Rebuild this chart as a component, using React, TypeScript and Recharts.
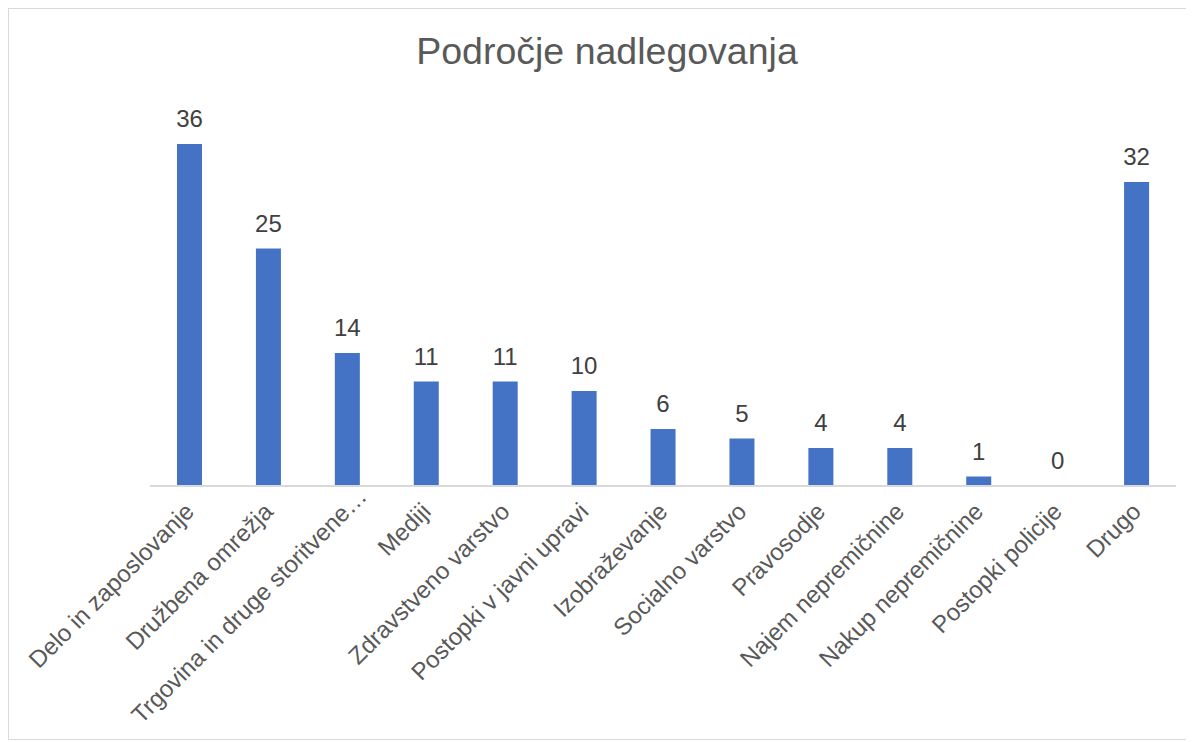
import React from 'react';
import { BarChart, Bar, XAxis, YAxis } from 'recharts';

const categories = [
  'Delo in zaposlovanje',
  'Družbena omrežja',
  'Trgovina in druge storitvene…',
  'Mediji',
  'Zdravstveno varstvo',
  'Postopki v javni upravi',
  'Izobraževanje',
  'Socialno varstvo',
  'Pravosodje',
  'Najem nepremičnine',
  'Nakup nepremičnine',
  'Postopki policije',
  'Drugo',
];
const counts = [36, 25, 14, 11, 11, 10, 6, 5, 4, 4, 1, 0, 32];

const data = categories.map((name, i) => ({ name, value: counts[i] }));

const font = "'Liberation Sans', Arial, sans-serif";
const textColor = '#595959';
const barColor = '#4472C4';

const AngledTick = (props: any) => {
  const { x, y, payload } = props;
  // the clipped label sits a bit further up-right, like in Excel
  const shift = String(payload.value).endsWith('…') ? 15 : 0;
  return (
    <g transform={`translate(${x + shift},${y + 13 - shift})`}>
      <text
        transform="rotate(-45)"
        textAnchor="end"
        dy="0.35em"
        fill={textColor}
        fontSize={24}
        fontFamily={font}
      >
        {payload.value}
      </text>
    </g>
  );
};

// bar + value label; drawn even when the value is 0
const BarWithLabel = (props: any) => {
  const { x, y, width, height, value } = props;
  const v = Array.isArray(value) ? value[1] - value[0] : value;
  return (
    <g>
      {height > 0 && <rect x={x} y={y} width={width} height={height} fill={barColor} />}
      <text
        x={x + width / 2}
        y={y - 17}
        textAnchor="middle"
        fill="#404040"
        fontSize={24}
        fontFamily={font}
      >
        {v}
      </text>
    </g>
  );
};

const App: React.FC = () => {
  return (
    <div
      style={{
        position: 'relative',
        width: 1180,
        height: 730,
        border: '1px solid #d9d9d9',
        background: '#fff',
        fontFamily: font,
      }}
    >
      <div
        style={{
          position: 'absolute',
          top: 21,
          left: 8,
          width: '100%',
          textAlign: 'center',
          fontSize: 37.5,
          color: textColor,
        }}
      >
        Področje nadlegovanja
      </div>
      <BarChart
        width={1180}
        height={730}
        data={data}
        margin={{ top: 97, right: 13, left: 141, bottom: 13 }}
        barCategoryGap={0}
      >
        <XAxis
          dataKey="name"
          interval={0}
          height={240}
          tickLine={false}
          axisLine={{ stroke: '#d9d9d9', strokeWidth: 2 }}
          tick={<AngledTick />}
        />
        <YAxis hide domain={[0, 40]} />
        <Bar
          dataKey="value"
          fill={barColor}
          barSize={25}
          minPointSize={0}
          shape={<BarWithLabel />}
          isAnimationActive={false}
        />
      </BarChart>
    </div>
  );
};

export default App;
